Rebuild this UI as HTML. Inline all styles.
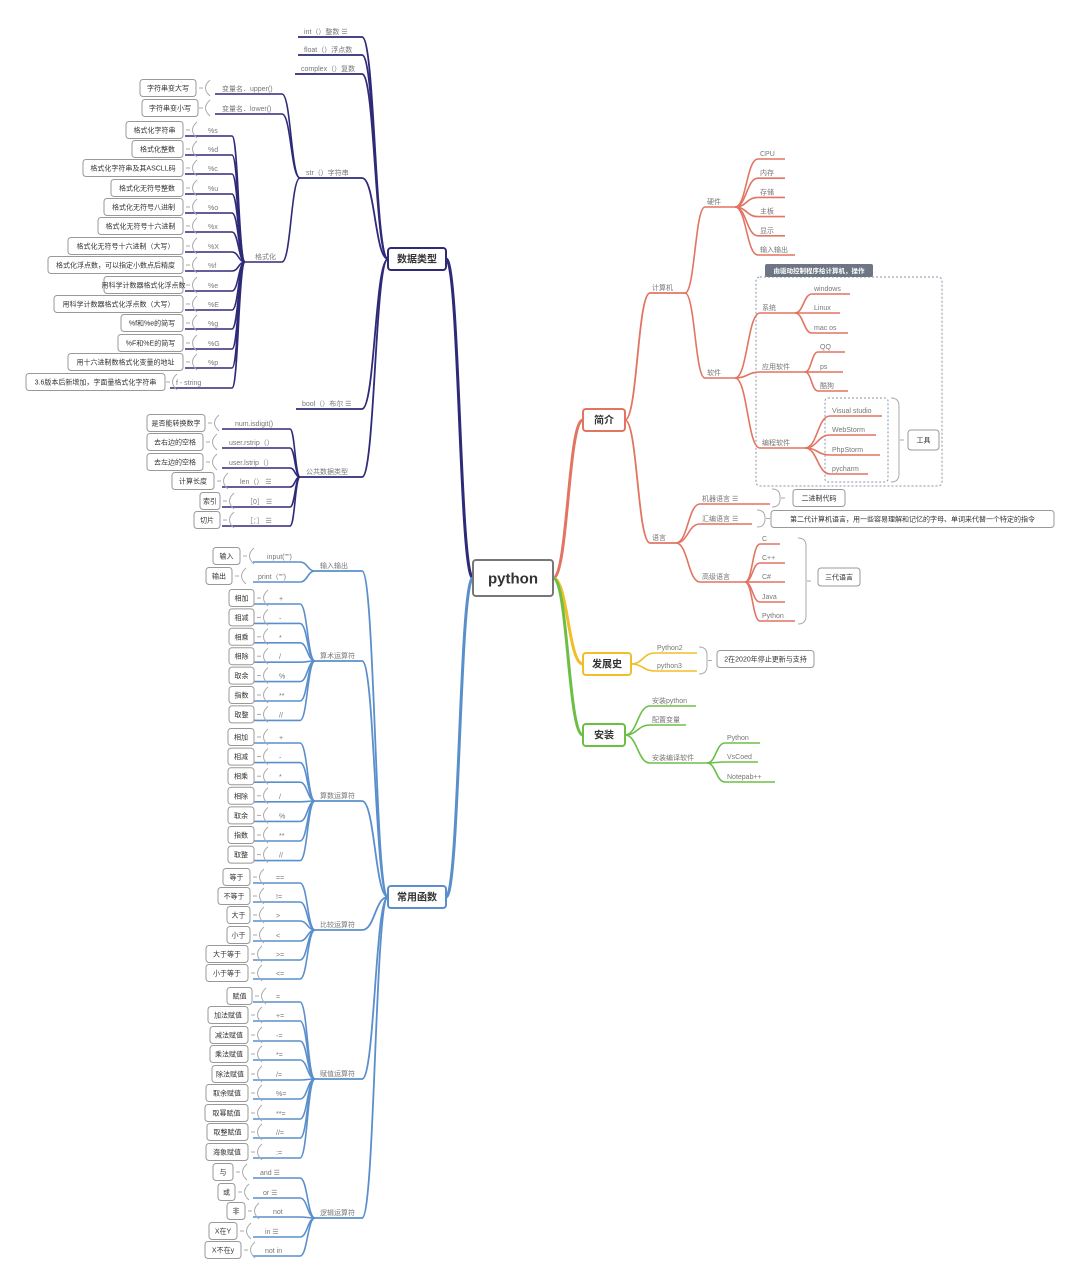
<!DOCTYPE html>
<html><head><meta charset="utf-8"><style>
html,body{margin:0;padding:0;background:#fff;width:1080px;height:1286px;overflow:hidden}
svg{display:block}
text{font-family:"Liberation Sans","Noto Sans CJK SC",sans-serif}
</style></head><body>
<svg id="m" width="1080" height="1286" viewBox="0 0 1080 1286" xmlns="http://www.w3.org/2000/svg"></svg>
<script>
const S=[];
const NAV='#2e2a78',RED='#e27462',ORA='#f2bd2a',GRN='#6cbf45',BLU='#5a8fcc';
function L(x1,x2,y,c,w){S.push(`<line x1="${x1}" y1="${y}" x2="${x2}" y2="${y}" stroke="${c}" stroke-width="${w||1.6}"/>`);}
function T(x,y,t,s,c,a,b){S.push(`<text x="${x}" y="${y}" font-size="${s||7}" fill="${c||'#666'}" text-anchor="${a||'start'}" ${b?'font-weight="bold"':''}>${t}</text>`);}
function C(x1,y1,x2,y2,c,w){const m=(x1+x2)/2;S.push(`<path d="M${x1} ${y1} C${m} ${y1} ${m} ${y2} ${x2} ${y2}" fill="none" stroke="${c}" stroke-width="${w||1.6}"/>`);}
function B(x1,x2,cy,t,h,s,b,sc){h=h||17;S.push(`<rect x="${x1}" y="${cy-h/2}" width="${x2-x1}" height="${h}" rx="3" fill="#fff" stroke="${sc||'#999'}" stroke-width="${b?2:1}"/>`);T((x1+x2)/2,cy+(s||7)*0.36,t,s||7,'#333','middle',b);}
function BR(x,cy){S.push(`<path d="M${x+12} ${cy-8} Q${x+3} ${cy} ${x+12} ${cy+8}" fill="none" stroke="#aaa" stroke-width="1"/><line x1="${x+1}" y1="${cy}" x2="${x+5}" y2="${cy}" stroke="#aaa"/>`);}
function BRR(x,y1,y2){const cy=(y1+y2)/2;S.push(`<path d="M${x} ${y1} Q${x+8} ${y1} ${x+8} ${y1+8} L${x+8} ${y2-8} Q${x+8} ${y2} ${x} ${y2}" fill="none" stroke="#aaa" stroke-width="1"/><line x1="${x+9}" y1="${cy}" x2="${x+13}" y2="${cy}" stroke="#aaa"/>`);}
// leaf right side: text on underline
function R(px,py,x1,x2,y,t,c,w){C(px,py,x1,y,c,w);L(x1,x2,y,c,w);T(x1+2,y-3,t,7,'#777');}
// leaf left side
function LF(px,py,x1,x2,y,t,c,w,tx){C(px,py,x2,y,c,w);L(x1,x2,y,c,w);T(tx||x1+2,y-3,t,7,'#777');}

// main branches
C(473,578,446,259,NAV,3);C(473,578,446,897,BLU,3);
C(553,578,583,420,RED,3);C(553,578,583,664,ORA,3);C(553,578,583,735,GRN,3);
B(473,553,578,'python',36,15,true,'#777');
B(388,446,259,'数据类型',22,10,true,NAV);
B(388,446,897,'常用函数',22,10,true,BLU);
B(583,625,420,'简介',22,10,true,RED);
B(583,631,664,'发展史',22,10,true,ORA);
B(583,625,735,'安装',22,10,true,GRN);

// ---- 数据类型
[['int（）整数 ☰',298,37],['float（）浮点数',298,55],['complex（）复数',295,74],['str（）字符串',300,178],['bool（）布尔 ☰',296,409],['公共数据类型',300,477]].forEach(a=>{LF(388,259,a[1],362,a[2],a[0],NAV,1.8,a[1]+6);});
// str children
[['变量名．upper()',94,'字符串变大写',140,196],['变量名．lower()',114,'字符串变小写',142,198]].forEach(a=>{LF(300,178,215,282,a[1],a[0],NAV,1.6,222);BR(198,a[1]-6);B(a[3],a[4],a[1]-6,a[2]);});
LF(300,178,245,282,262,'格式化',NAV,1.6,255);
[['%s',130,'格式化字符串',126],['%d',149,'格式化整数',132],['%c',168,'格式化字符串及其ASCLL码',83],['%u',188,'格式化无符号整数',111],['%o',207,'格式化无符号八进制',104],['%x',226,'格式化无符号十六进制',98],['%X',246,'格式化无符号十六进制（大写）',68],['%f',265,'格式化浮点数，可以指定小数点后精度',48],['%e',285,'用科学计数器格式化浮点数',104],['%E',304,'用科学计数器格式化浮点数（大写）',54],['%g',323,'%f和%e的简写',121],['%G',343,'%F和%E的简写',118],['%p',362,'用十六进制数格式化变量的地址',68]].forEach(a=>{LF(245,262,185,232,a[1]+6,a[0],NAV,1.6,208);BR(185,a[1]);B(a[3],183,a[1],a[2]);});
LF(245,262,170,232,388,'f - string',NAV,1.6,176);BR(165,382);B(26,165,382,'3.6版本后新增加，字面量格式化字符串');
[['num.isdigit()',423,'是否能转换数字',147,205,235],['user.rstrip（）',442,'去右边的空格',147,203,229],['user.lstrip（）',462,'去左边的空格',147,203,229],['len（） ☰',481,'计算长度',172,214,240],['［0］ ☰',501,'索引',200,220,246],['［：］ ☰',520,'切片',194,220,246]].forEach(a=>{LF(300,477,222,290,a[1]+6,a[0],NAV,1.6,a[5]);BR(a[4]+2,a[1]);B(a[3],a[4],a[1],a[2]);});

// ---- 常用函数
function G(lbl,gy,items){LF(388,897,315,362,gy,lbl,BLU,1.8,320);items.forEach(a=>{LF(315,gy,253,300,a[1]+6,a[0],BLU,1.6,a[5]||276);BR(a[4]+2,a[1]);B(a[3],a[4],a[1],a[2]);});}
G('输入输出',571,[['input("")',556,'输入',213,240,267],['print（"")',576,'输出',206,232,258]]);
const ar=[['+','相加'],['-','相减'],['*','相乘'],['/','相除'],['%','取余'],['**','指数'],['//','取整']];
G('算术运算符',661,ar.map((a,i)=>[a[0],598+i*19.4,a[1],229,254,279]));
G('算数运算符',801,ar.map((a,i)=>[a[0],737+i*19.6,a[1],228,254,279]));
G('比较运算符',930,[['==',877,'等于',223,250],['!=',896,'不等于',218,250],['>',915,'大于',227,250],['<',935,'小于',227,250],['>=',954,'大于等于',206,248],['<=',973,'小于等于',206,248]]);
G('赋值运算符',1079,[['=',996,'赋值',227,252],['+=',1015,'加法赋值',208,248],['-=',1035,'减法赋值',210,248],['*=',1054,'乘法赋值',210,248],['/=',1074,'除法赋值',212,248],['%=',1093,'取余赋值',206,248],['**=',1113,'取幂赋值',205,248],['//=',1132,'取整赋值',207,248],[':=',1152,'海象赋值',206,248]]);
G('逻辑运算符',1218,[['and ☰',1172,'与',213,233,260],['or ☰',1192,'或',218,235,263],['not',1211,'非',227,245,273],['in ☰',1231,'X在Y',209,237,265],['not in',1250,'X不在y',205,241,265]]);

// ---- 简介
R(625,420,650,685,293,'计算机',RED,1.8);R(625,420,650,676,543,'语言',RED,1.8);
R(685,293,705,735,207,'硬件',RED);R(685,293,705,735,378,'软件',RED);
['CPU','内存','存储','主板','显示','输入输出'].forEach((t,i)=>R(735,207,758,t=='输入输出'?795:785,159+i*19.2,t,RED));
S.push(`<rect x="756" y="277" width="186" height="209" rx="4" fill="none" stroke="#8a93a6" stroke-dasharray="2,2"/>`);
S.push(`<rect x="765" y="264" width="108" height="13" rx="2" fill="#6e7684"/>`);T(819,273,'由驱动控制程序给计算机，操作',6.5,'#fff','middle',true);
R(735,378,760,795,313,'系统',RED);R(735,378,760,805,372,'应用软件',RED);R(735,378,760,805,448,'编程软件',RED);
[['windows',294,850],['Linux',313,840],['mac  os',333,848]].forEach(a=>R(795,313,812,a[2],a[1],a[0],RED));
[['QQ',352,845],['ps',372,843],['酷狗',391,848]].forEach(a=>R(805,372,818,a[2],a[1],a[0],RED));
S.push(`<rect x="825" y="398" width="63" height="84" rx="3" fill="none" stroke="#8a93a6" stroke-dasharray="2,2"/>`);
[['Visual studio',416,882],['WebStorm',435,876],['PhpStorm',455,880],['pycharm',474,868]].forEach(a=>R(805,448,830,a[2],a[1],a[0],RED));
BRR(891,398,482);B(908,939,440,'工具',20);
R(676,543,700,770,504,'机器语言     ☰',RED);R(676,543,700,752,524,'汇编语言  ☰',RED);R(676,543,700,745,582,'高级语言',RED);
BRR(772,489,507);B(793,845,498,'二进制代码');
BRR(757,510,527);B(771,1054,519,'第二代计算机语言，用一些容易理解和记忆的字母、单词来代替一个特定的指令');
[['C',544,780],['C++',563,785],['C#',582,785],['Java',602,785],['Python',621,795]].forEach(a=>R(745,582,760,a[2],a[1],a[0],RED));
BRR(798,538,624);B(818,860,577,'三代语言',18);
// 发展史
R(631,664,655,697,653,'Python2',ORA);R(631,664,655,697,671,'python3',ORA);
BRR(699,647,674);B(717,814,659,'2在2020年停止更新与支持');
// 安装
R(625,735,650,696,706,'安装python',GRN);R(625,735,650,686,725,'配置变量',GRN);R(625,735,650,707,763,'安装编译软件',GRN);
[['Python',743,760],['VsCoed',762,758],['Notepab++',782,775]].forEach(a=>R(707,763,725,a[2],a[1],a[0],GRN));
document.getElementById('m').innerHTML=S.join('');
</script>
</body></html>
